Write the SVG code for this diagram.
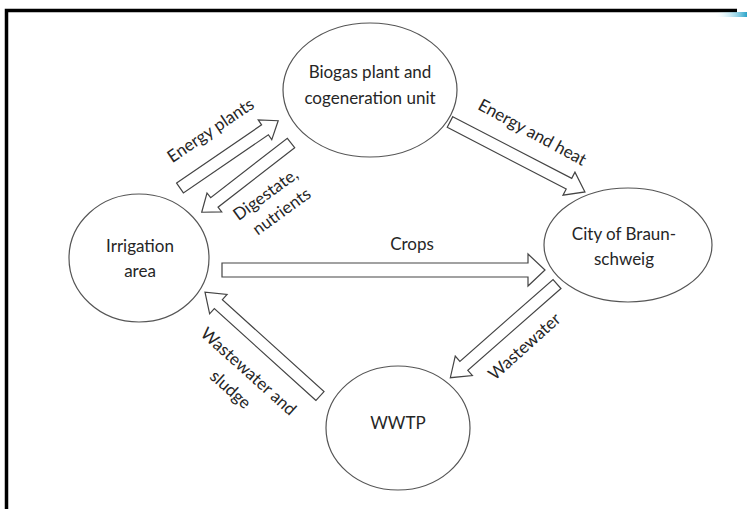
<svg xmlns="http://www.w3.org/2000/svg" width="747" height="509" viewBox="0 0 747 509">
<defs>
<style>
.node{fill:#fff;stroke:#555;stroke-width:1.2}
.arr{fill:#fff;stroke:#444;stroke-width:1.2;stroke-linejoin:miter}
text{font-family:Lato,"Liberation Sans",sans-serif;font-size:17px;fill:#262626}
.c{text-anchor:middle}
</style>
<linearGradient id="glow" x1="0" y1="0" x2="1" y2="0">
<stop offset="0" stop-color="#e6fbff" stop-opacity="0"/>
<stop offset="1" stop-color="#2aa3c9"/>
</linearGradient>
</defs>
<rect width="747" height="509" fill="#fff"/>
<g id="frame">
<path d="M6.5,509 V10.5 H737" fill="none" stroke="#000" stroke-width="3.5"/>
<rect x="715" y="12" width="32" height="5" fill="url(#glow)"/>
</g>
<g id="connectors">
<polygon class="arr" transform="translate(180,188) rotate(-34.4)" points="0,-6 103,-6 103,-12 119,0 103,12 103,6 0,6"/>
<polygon class="arr" transform="translate(291,143) rotate(142.2)" points="0,-6 97,-6 97,-12 113,0 97,12 97,6 0,6"/>
<polygon class="arr" transform="translate(450,122) rotate(27.4)" points="0,-6 134,-6 134,-13 152,0 134,13 134,6 0,6"/>
<polygon class="arr" transform="translate(222,270)" points="0,-7 306,-7 306,-16 323,0 306,16 306,7 0,7"/>
<polygon class="arr" transform="translate(557,284) rotate(138.7)" points="0,-6 124,-6 124,-13 142,0 124,13 124,6 0,6"/>
<polygon class="arr" transform="translate(320,396) rotate(-137.9)" points="0,-6 137,-6 137,-13 155,0 137,13 137,6 0,6"/>
<text class="c" transform="translate(211,131) rotate(-34)" y="5">Energy plants</text>
<text class="c" transform="translate(266,195) rotate(-36)" y="5">Digestate,</text>
<text class="c" transform="translate(282,212) rotate(-36)" y="5">nutrients</text>
<text class="c" transform="translate(532,133) rotate(28.5)" y="5">Energy and heat</text>
<text class="c" x="412" y="250">Crops</text>
<text class="c" transform="translate(525,347) rotate(-42)" y="5">Wastewater</text>
<text class="c" transform="translate(248,372) rotate(42)" y="5">Wastewater and</text>
<text class="c" transform="translate(230,390) rotate(42)" y="5">sludge</text>
</g>
<g id="biogas">
<ellipse class="node" cx="370" cy="90" rx="87" ry="67"/>
<text class="c" x="370" y="78">Biogas plant and</text>
<text class="c" x="370" y="104">cogeneration unit</text>
</g>
<g id="irrigation">
<ellipse class="node" cx="139" cy="258" rx="70" ry="64"/>
<text class="c" x="140" y="252">Irrigation</text>
<text class="c" x="140" y="277">area</text>
</g>
<g id="city">
<ellipse class="node" cx="628" cy="245" rx="84" ry="57"/>
<text class="c" x="624" y="240">City of Braun-</text>
<text class="c" x="624" y="265">schweig</text>
</g>
<g id="wwtp">
<ellipse class="node" cx="398" cy="428" rx="72" ry="62"/>
<text class="c" x="398" y="429">WWTP</text>
</g>
</svg>
